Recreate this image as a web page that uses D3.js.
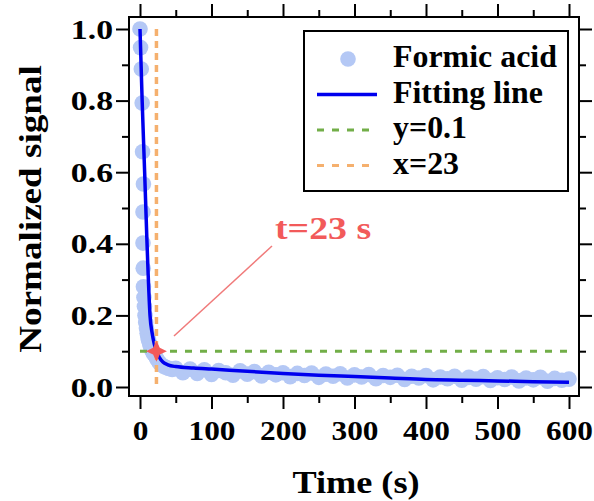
<!DOCTYPE html>
<html>
<head>
<meta charset="utf-8">
<script src="https://cdn.jsdelivr.net/npm/d3@7"></script>
<style>
  html, body { margin: 0; padding: 0; background: #fff; }
  svg text { font-family: "Liberation Serif", "Times New Roman", serif; font-weight: bold; }
</style>
</head>
<body>
<div id="svg-container"></div>
<script>
// data
const dotTime = [0, 0.8, 1.8, 3.0, 3.6, 4.8, 4.2, 4.2, 4.5, 4.8, 5.5, 6.2, 7, 8, 9, 10, 11, 12, 13.5, 15, 17, 19,
  21, 23, 25, 27, 30, 33, 36, 40, 45,
  50, 60, 70, 80, 90, 100, 110, 120, 130, 140, 150, 160, 170, 180, 190, 200, 210, 220, 230, 240, 250,
  260, 270, 280, 290, 300, 310, 320, 330, 340, 350, 360, 370, 380, 390, 400, 410, 420, 430, 440, 450,
  460, 470, 480, 490, 500, 510, 520, 530, 540, 550, 560, 570, 580, 590, 600]
const dotSignal = [1.0, 0.948, 0.888, 0.793, 0.657, 0.567, 0.489, 0.402, 0.332, 0.28, 0.25, 0.225, 0.2, 0.18, 0.165, 0.15, 0.14, 0.13, 0.12, 0.11, 0.10, 0.093,
  0.088, 0.080, 0.074, 0.068, 0.062, 0.058, 0.055, 0.052, 0.049,
  0.052, 0.040, 0.050, 0.038, 0.048, 0.035, 0.046, 0.040, 0.033, 0.045, 0.036, 0.043, 0.031, 0.041, 0.034, 0.040, 0.029, 0.038, 0.032, 0.039, 0.027,
  0.036, 0.030, 0.037, 0.025, 0.034, 0.028, 0.035, 0.023, 0.032, 0.027, 0.033, 0.021, 0.030, 0.025, 0.032, 0.020, 0.028, 0.023, 0.030, 0.019,
  0.027, 0.022, 0.029, 0.018, 0.026, 0.021, 0.028, 0.017, 0.025, 0.020, 0.027, 0.016, 0.024, 0.019, 0.022]

const fitTime = [0, 3, 6.5, 9.5, 11.5, 14, 17, 20, 23, 27, 32, 39, 50, 75, 100, 150, 200, 250, 300, 350, 400, 450, 500, 550, 600]
const fitSignal = [1.0, 0.8, 0.6, 0.42, 0.31, 0.2, 0.15, 0.12, 0.10, 0.083, 0.07, 0.062, 0.057, 0.053, 0.050, 0.044, 0.038, 0.033, 0.029, 0.025, 0.021, 0.019, 0.017, 0.015, 0.013]

const thresholdY = 0.1
const crossX = 23

const xMajor = [0, 100, 200, 300, 400, 500, 600]
const xMinor = [50, 150, 250, 350, 450, 550]
const yMajor = [0, 0.2, 0.4, 0.6, 0.8, 1.0]
const yMinor = [0.1, 0.3, 0.5, 0.7, 0.9]

const legendLabels = ['Formic acid', 'Fitting line', 'y=0.1', 'x=23']

//kleuren
const dotColor = '#b4c8f5'
const lineColor = '#0000ee'
const greenColor = '#72ae48'
const orangeColor = '#f5b06e'
const redColor = '#f25a5a'

const width = 594
const height = 501
const frame = { left: 129, right: 579, top: 17, bottom: 396 }

const svg = d3.select('#svg-container')
  .append('svg').attr('width', width).attr('height', height)

const xScale = d3.scaleLinear().domain([0, 600]).range([140, 569])
const yScale = d3.scaleLinear().domain([0, 1]).range([387, 29])

//assen: major en minor ticks aan alle vier de kanten
function drawAxis(axisFn, scale, values, size, pos, labels) {
  const ax = axisFn(scale).tickValues(values).tickSize(size).tickPadding(4)
  if (!labels) ax.tickFormat('')
  else ax.tickFormat(d3.format('.' + labels + 'f'))
  const g = svg.append('g').attr('transform', pos).call(ax)
  g.select('.domain').remove()
  g.selectAll('line').attr('stroke', '#000').attr('stroke-width', 2)
  return g
}

const xAxisG = drawAxis(d3.axisBottom, xScale, xMajor, 13, `translate(0,${frame.bottom})`, '0')
drawAxis(d3.axisBottom, xScale, xMinor, 7, `translate(0,${frame.bottom})`)
drawAxis(d3.axisTop, xScale, xMajor, 13, `translate(0,${frame.top})`)
drawAxis(d3.axisTop, xScale, xMinor, 7, `translate(0,${frame.top})`)
const yAxisG = drawAxis(d3.axisLeft, yScale, yMajor, 13, `translate(${frame.left},0)`, '1')
drawAxis(d3.axisLeft, yScale, yMinor, 7, `translate(${frame.left},0)`)
drawAxis(d3.axisRight, yScale, yMajor, 13, `translate(${frame.right},0)`)
drawAxis(d3.axisRight, yScale, yMinor, 7, `translate(${frame.right},0)`)

xAxisG.selectAll('text')
  .attr('y', 0).attr('dy', 0)
  .attr('font-size', 27).attr('fill', '#000')
  .attr('transform', 'translate(0,44) scale(1.16,1)')

yAxisG.selectAll('text')
  .attr('x', 0).attr('dy', 0)
  .attr('font-size', 27).attr('fill', '#000')
  .attr('transform', 'translate(-16,9) scale(1.25,1)')

//kader
svg.append('rect')
  .attr('x', frame.left).attr('y', frame.top)
  .attr('width', frame.right - frame.left).attr('height', frame.bottom - frame.top)
  .attr('fill', 'none').attr('stroke', '#000').attr('stroke-width', 2)

//meetpunten
svg.append('g').selectAll('circle')
  .data(dotTime)
  .enter().append('circle')
  .attr('cx', d => xScale(d))
  .attr('cy', (d, i) => yScale(dotSignal[i]))
  .attr('r', 7.8)
  .attr('fill', dotColor)

//fit lijn
const fitLine = d3.line()
  .x(d => xScale(d))
  .y((d, i) => yScale(fitSignal[i]))
  .curve(d3.curveMonotoneX)

svg.append('path')
  .datum(fitTime)
  .attr('d', fitLine)
  .attr('fill', 'none')
  .attr('stroke', lineColor)
  .attr('stroke-width', 3.5)
  .attr('stroke-linejoin', 'round')

//hulplijnen
svg.append('line')
  .attr('x1', xScale(0)).attr('x2', xScale(600))
  .attr('y1', yScale(thresholdY)).attr('y2', yScale(thresholdY))
  .attr('stroke', greenColor).attr('stroke-width', 3).attr('stroke-dasharray', '7,8')

svg.append('line')
  .attr('x1', xScale(crossX)).attr('x2', xScale(crossX))
  .attr('y1', yScale(1)).attr('y2', yScale(0))
  .attr('stroke', orangeColor).attr('stroke-width', 3.5).attr('stroke-dasharray', '7,5')

//snijpunt marker (vierpuntige ster)
const star4 = {
  draw(ctx, size) {
    const r = Math.sqrt(size)
    const ri = r * 0.45
    for (let k = 0; k < 8; k++) {
      const a = k * Math.PI / 4 - Math.PI / 2
      const rr = k % 2 === 0 ? r : ri
      if (k === 0) ctx.moveTo(rr * Math.cos(a), rr * Math.sin(a))
      else ctx.lineTo(rr * Math.cos(a), rr * Math.sin(a))
    }
    ctx.closePath()
  }
}
svg.append('path')
  .attr('d', d3.symbol().type(star4).size(110)())
  .attr('transform', `translate(${xScale(crossX)},${yScale(thresholdY)})`)
  .attr('fill', redColor)

//annotatie
svg.append('line')
  .attr('x1', 174).attr('y1', 336).attr('x2', 272).attr('y2', 246)
  .attr('stroke', '#f07a7a').attr('stroke-width', 1.5)

svg.append('text')
  .attr('transform', 'translate(275,239) scale(1.22,1)')
  .attr('font-size', 31)
  .attr('fill', redColor)
  .text('t=23 s')

//as titels
svg.append('text')
  .attr('transform', 'translate(356,493) scale(1.17,1)')
  .attr('text-anchor', 'middle')
  .attr('font-size', 31)
  .text('Time (s)')

svg.append('text')
  .attr('transform', 'translate(41,209) rotate(-90) scale(1.16,1)')
  .attr('text-anchor', 'middle')
  .attr('font-size', 32)
  .text('Normalized signal')

//legenda
const legend = svg.append('g')
legend.append('rect')
  .attr('x', 304).attr('y', 31).attr('width', 264).attr('height', 160)
  .attr('fill', '#fff').attr('stroke', '#000').attr('stroke-width', 2)

const rowY = [59, 94.5, 130, 165.5]
legend.append('circle').attr('cx', 348).attr('cy', rowY[0]).attr('r', 7.8).attr('fill', dotColor)
legend.append('line').attr('x1', 317).attr('x2', 377).attr('y1', rowY[1]).attr('y2', rowY[1])
  .attr('stroke', lineColor).attr('stroke-width', 3.5)
legend.append('line').attr('x1', 317).attr('x2', 377).attr('y1', rowY[2]).attr('y2', rowY[2])
  .attr('stroke', greenColor).attr('stroke-width', 3).attr('stroke-dasharray', '7,8')
legend.append('line').attr('x1', 317).attr('x2', 377).attr('y1', rowY[3]).attr('y2', rowY[3])
  .attr('stroke', orangeColor).attr('stroke-width', 3).attr('stroke-dasharray', '7,8')

legend.selectAll('text.lab')
  .data(legendLabels)
  .enter().append('text')
  .attr('class', 'lab')
  .attr('transform', (d, i) => `translate(393,${rowY[i] + 8}) scale(1.03,1)`)
  .attr('font-size', 31)
  .text(d => d)
</script>
</body>
</html>
